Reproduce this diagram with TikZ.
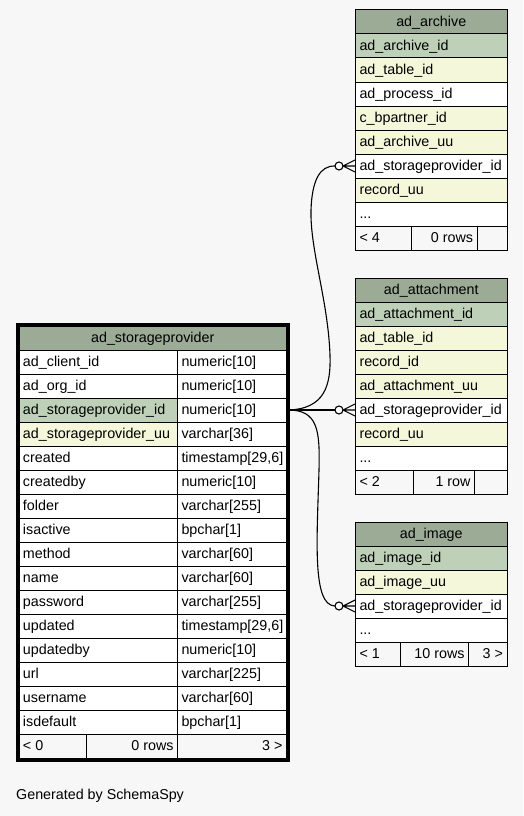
\documentclass[tikz,border=0pt]{standalone}
\usepackage{fontspec}
\setmainfont{Liberation Sans}
\usetikzlibrary{calc}
\definecolor{bg}{HTML}{F7F7F7}
\definecolor{hdr}{HTML}{9BAB96}
\definecolor{pk}{HTML}{BED1B8}
\definecolor{idx}{HTML}{F4F7DA}
\newcommand\tcell[7]{%
 \pgfmathsetmacro\cw{#3-#2}\pgfmathsetmacro\tw{#3-#2-8}%
 \node[cellbox, fill=#5, minimum width=\cw pt, anchor=north west] (#1) at (#2,#4) {\makebox[\tw pt][#6]{#7}};}
\newcommand\crowfoot[1]{%
 \draw[edge] ($(#1.west)+(-12,0)$) -- ($(#1.west)+(0,-6)$)
   ($(#1.west)+(-12,0)$) -- (#1.west)
   ($(#1.west)+(-12,0)$) -- ($(#1.west)+(0,6)$);
 \draw[edge, fill=white] ($(#1.west)+(-16,0)$) circle[radius=4];}
\begin{document}
\begin{tikzpicture}[x=1pt,y=-1pt,
 cellbox/.style={draw=black, line width=1pt, minimum height=24pt, inner xsep=4pt, inner ysep=0pt,
   text height=12pt, text depth=2.5pt, font=\fontsize{14.3}{17}\selectfont},
 edge/.style={line width=1.1pt, draw=black}]
\fill[bg] (0,0) rectangle (523,816);
\useasboundingbox (0,0) rectangle (523,816);
% ---------- ad_storageprovider ----------
\tcell{mh}{18.5}{286}{325.5}{hdr}{c}{ad\_storageprovider}
\tcell{m1n}{18.5}{177}{349.5}{white}{l}{ad\_client\_id}
\tcell{m1t}{177}{286}{349.5}{white}{l}{numeric[10]}
\tcell{m2n}{18.5}{177}{373.5}{white}{l}{ad\_org\_id}
\tcell{m2t}{177}{286}{373.5}{white}{l}{numeric[10]}
\tcell{m3n}{18.5}{177}{397.5}{pk}{l}{ad\_storageprovider\_id}
\tcell{m3t}{177}{286}{397.5}{white}{l}{numeric[10]}
\tcell{m4n}{18.5}{177}{421.5}{idx}{l}{ad\_storageprovider\_uu}
\tcell{m4t}{177}{286}{421.5}{white}{l}{varchar[36]}
\tcell{m5n}{18.5}{177}{445.5}{white}{l}{created}
\tcell{m5t}{177}{286}{445.5}{white}{l}{timestamp[29,6]}
\tcell{m6n}{18.5}{177}{469.5}{white}{l}{createdby}
\tcell{m6t}{177}{286}{469.5}{white}{l}{numeric[10]}
\tcell{m7n}{18.5}{177}{493.5}{white}{l}{folder}
\tcell{m7t}{177}{286}{493.5}{white}{l}{varchar[255]}
\tcell{m8n}{18.5}{177}{517.5}{white}{l}{isactive}
\tcell{m8t}{177}{286}{517.5}{white}{l}{bpchar[1]}
\tcell{m9n}{18.5}{177}{541.5}{white}{l}{method}
\tcell{m9t}{177}{286}{541.5}{white}{l}{varchar[60]}
\tcell{m10n}{18.5}{177}{565.5}{white}{l}{name}
\tcell{m10t}{177}{286}{565.5}{white}{l}{varchar[60]}
\tcell{m11n}{18.5}{177}{589.5}{white}{l}{password}
\tcell{m11t}{177}{286}{589.5}{white}{l}{varchar[255]}
\tcell{m12n}{18.5}{177}{613.5}{white}{l}{updated}
\tcell{m12t}{177}{286}{613.5}{white}{l}{timestamp[29,6]}
\tcell{m13n}{18.5}{177}{637.5}{white}{l}{updatedby}
\tcell{m13t}{177}{286}{637.5}{white}{l}{numeric[10]}
\tcell{m14n}{18.5}{177}{661.5}{white}{l}{url}
\tcell{m14t}{177}{286}{661.5}{white}{l}{varchar[225]}
\tcell{m15n}{18.5}{177}{685.5}{white}{l}{username}
\tcell{m15t}{177}{286}{685.5}{white}{l}{varchar[60]}
\tcell{m16n}{18.5}{177}{709.5}{white}{l}{isdefault}
\tcell{m16t}{177}{286}{709.5}{white}{l}{bpchar[1]}
\tcell{mf1}{18.5}{86}{733.5}{bg}{l}{\textless{} 0}
\tcell{mf2}{86}{177}{733.5}{bg}{r}{0 rows}
\tcell{mf3}{177}{286}{733.5}{bg}{r}{3 \textgreater}
\draw[line width=3pt] ($(mh.north west)+(-1.5,-1.5)$) rectangle ($(mf3.south east)+(1.5,1.5)$);
% ---------- ad_archive ----------
\tcell{arh}{355}{506.5}{9.5}{hdr}{c}{ad\_archive}
\tcell{ar1}{355}{506.5}{33.5}{pk}{l}{ad\_archive\_id}
\tcell{ar2}{355}{506.5}{57.5}{idx}{l}{ad\_table\_id}
\tcell{ar3}{355}{506.5}{81.5}{white}{l}{ad\_process\_id}
\tcell{ar4}{355}{506.5}{105.5}{idx}{l}{c\_bpartner\_id}
\tcell{ar5}{355}{506.5}{129.5}{idx}{l}{ad\_archive\_uu}
\tcell{arsp}{355}{506.5}{153.5}{white}{l}{ad\_storageprovider\_id}
\tcell{ar7}{355}{506.5}{177.5}{idx}{l}{record\_uu}
\tcell{ar8}{355}{506.5}{201.5}{white}{l}{...}
\tcell{arf1}{355}{411}{225.5}{bg}{l}{\textless{} 4}
\tcell{arf2}{411}{476.5}{225.5}{bg}{r}{0 rows}
\tcell{arf3}{476.5}{506.5}{225.5}{bg}{r}{}
% ---------- ad_attachment ----------
\tcell{ath}{355}{506.5}{277.5}{hdr}{c}{ad\_attachment}
\tcell{at1}{355}{506.5}{301.5}{pk}{l}{ad\_attachment\_id}
\tcell{at2}{355}{506.5}{325.5}{idx}{l}{ad\_table\_id}
\tcell{at3}{355}{506.5}{349.5}{idx}{l}{record\_id}
\tcell{at4}{355}{506.5}{373.5}{idx}{l}{ad\_attachment\_uu}
\tcell{atsp}{355}{506.5}{397.5}{white}{l}{ad\_storageprovider\_id}
\tcell{at6}{355}{506.5}{421.5}{idx}{l}{record\_uu}
\tcell{at7}{355}{506.5}{445.5}{white}{l}{...}
\tcell{atf1}{355}{413}{469.5}{bg}{l}{\textless{} 2}
\tcell{atf2}{413}{474}{469.5}{bg}{r}{1 row}
\tcell{atf3}{474}{506.5}{469.5}{bg}{r}{}
% ---------- ad_image ----------
\tcell{imh}{355}{506.5}{521.5}{hdr}{c}{ad\_image}
\tcell{im1}{355}{506.5}{545.5}{pk}{l}{ad\_image\_id}
\tcell{im2}{355}{506.5}{569.5}{idx}{l}{ad\_image\_uu}
\tcell{imsp}{355}{506.5}{593.5}{white}{l}{ad\_storageprovider\_id}
\tcell{im4}{355}{506.5}{617.5}{white}{l}{...}
\tcell{imf1}{355}{400}{641.5}{bg}{l}{\textless{} 1}
\tcell{imf2}{400}{468}{641.5}{bg}{r}{10 rows}
\tcell{imf3}{468}{506.5}{641.5}{bg}{r}{3 \textgreater}
% ---------- connectors ----------
\draw[edge] (m3t.east) -- ($(atsp.west)+(-20,0)$);
\draw[edge] (m3t.east) .. controls (325,409.5) and (331,385) .. (330,355)
  .. controls (328,300) and (310,250) .. (311,210)
  .. controls (312,180) and (320,165.5) .. ($(arsp.west)+(-20,0)$);
\draw[edge] (m3t.east) .. controls (318,409.5) and (320,430) .. (319,470)
  .. controls (317,540) and (312,605.5) .. ($(imsp.west)+(-20,0)$);
\crowfoot{arsp}
\crowfoot{atsp}
\crowfoot{imsp}
% ---------- footer text ----------
\node[anchor=west, inner sep=0pt, font=\fontsize{14.3}{17}\selectfont] (gen) at (16,796) {Generated by SchemaSpy};
\end{tikzpicture}
\end{document}
